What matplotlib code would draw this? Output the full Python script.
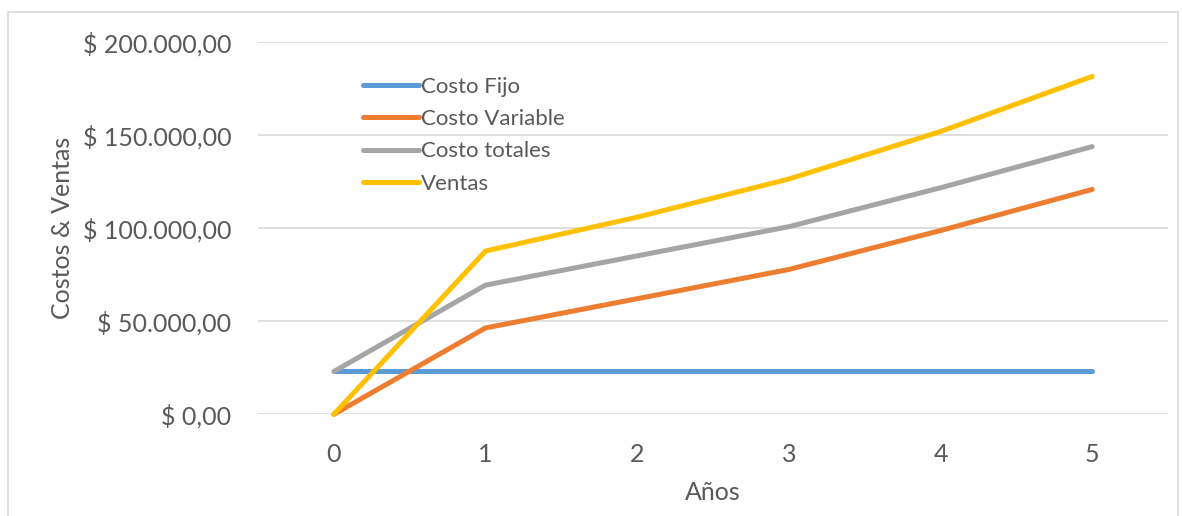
import matplotlib.pyplot as plt
from matplotlib.ticker import FuncFormatter
from matplotlib.patches import Rectangle

plt.rcParams['font.family'] = ['Lato', 'DejaVu Sans']

anios = [0, 1, 2, 3, 4, 5]
costo_fijo = [23000, 23000, 23000, 23000, 23000, 23000]
costo_variable = [0, 46400, 62100, 77800, 98700, 120800]
costo_totales = [23000, 69400, 85100, 100800, 121700, 143800]
ventas = [0, 87700, 105900, 126400, 151900, 181500]

series = [
    ('Costo Fijo', costo_fijo, '#5B9BD5'),
    ('Costo Variable', costo_variable, '#ED7D31'),
    ('Costo totales', costo_totales, '#A5A5A5'),
    ('Ventas', ventas, '#FFC000'),
]

texto = '#595959'


def pesos(v, pos):
    s = f'{v:,.2f}'.replace(',', 'X').replace('.', ',').replace('X', '.')
    return '$ ' + s


fig = plt.figure(figsize=(11.82, 5.16), dpi=100)
ax = fig.add_axes([258 / 1182, 1 - 414.3 / 516, (1168 - 258) / 1182, (414.3 - 42) / 516])

for nombre, valores, color in series:
    ax.plot(anios, valores, color=color, lw=3.6, label=nombre,
            solid_capstyle='round', solid_joinstyle='round', clip_on=False, zorder=3)

ax.set_xlim(-0.5, 5.5)
ax.set_ylim(0, 200000)
ax.set_yticks([0, 50000, 100000, 150000, 200000])
ax.set_xticks(anios)
ax.yaxis.set_major_formatter(FuncFormatter(pesos))
ax.grid(axis='y', color='#D9D9D9', lw=1.2)
ax.set_axisbelow(True)
for s in ax.spines.values():
    s.set_visible(False)
ax.tick_params(length=0, labelsize=18, colors=texto)
ax.tick_params(axis='y', pad=19)
ax.tick_params(axis='x', pad=21)

ax.set_xlabel('Años', fontsize=18, color=texto)
ax.set_ylabel('Costos & Ventas', fontsize=18, color=texto)
ax.yaxis.set_label_coords((62 - 258) / 910, 0.5)
ax.xaxis.set_label_coords(0.5, (414.3 - 492) / 372.3)
ax.xaxis.label.set_va('center')
ax.yaxis.label.set_va('center')

ax.legend(loc='upper left', bbox_to_anchor=(363 / 1182, 1 - 77 / 516),
          bbox_transform=fig.transFigure, frameon=False, fontsize=16,
          labelcolor=texto, handlelength=2.5, handletextpad=0.1,
          labelspacing=0.55, borderpad=0, borderaxespad=0)

fig.patches.append(Rectangle((8 / 1182, -0.01), 1170 / 1182, 1 - 12 / 516 + 0.01,
                             transform=fig.transFigure, fill=False,
                             edgecolor='#D9D9D9', lw=1.2))

fig.savefig('out.png', dpi=100)
